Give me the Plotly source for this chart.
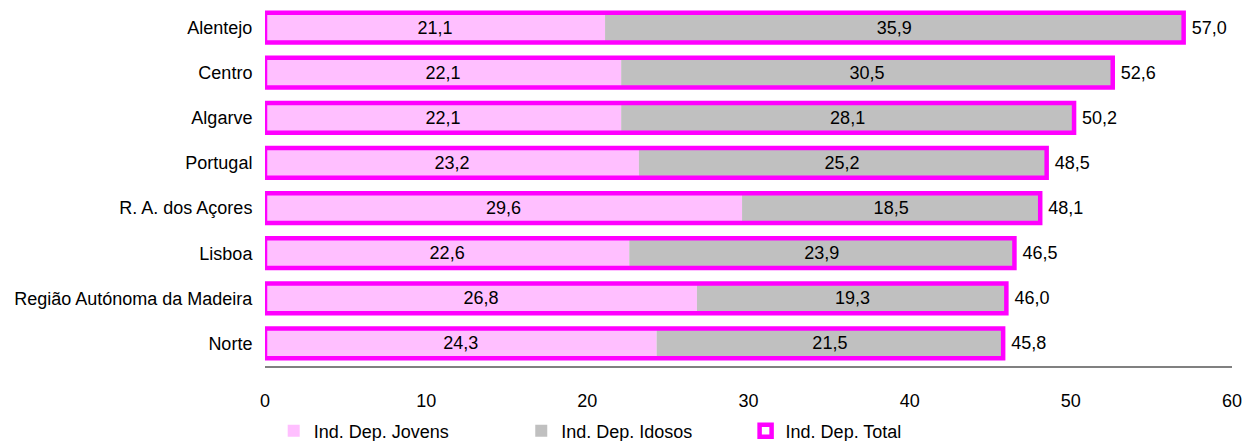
import plotly.graph_objects as go

regions = ["Alentejo", "Centro", "Algarve", "Portugal", "R. A. dos Açores",
           "Lisboa", "Região Autónoma da Madeira", "Norte"]
jovens = [21.1, 22.1, 22.1, 23.2, 29.6, 22.6, 26.8, 24.3]
idosos = [35.9, 30.5, 28.1, 25.2, 18.5, 23.9, 19.3, 21.5]
total = [57.0, 52.6, 50.2, 48.5, 48.1, 46.5, 46.0, 45.8]
x_ticks = [0, 10, 20, 30, 40, 50, 60]

FONT = "Arial, Liberation Sans, sans-serif"
FS = 18
BW = 0.66

fig = go.Figure()
fig.add_trace(go.Bar(
    y=regions, x=jovens, orientation="h", name="Ind. Dep. Jovens",
    marker=dict(color="#FFBFFF", line=dict(width=0)), width=BW,
    texttemplate="%{x:.1f}", textposition="inside", insidetextanchor="middle",
    textfont=dict(color="black", size=FS, family=FONT), constraintext="none",
    legend="legend", hoverinfo="skip"))
fig.add_trace(go.Bar(
    y=regions, x=idosos, base=jovens, orientation="h", name="Ind. Dep. Idosos",
    marker=dict(color="#C0C0C0", line=dict(width=0)), width=BW,
    texttemplate="%{x:.1f}", textposition="inside", insidetextanchor="middle",
    textfont=dict(color="black", size=FS, family=FONT), constraintext="none",
    legend="legend2", hoverinfo="skip"))
fig.add_trace(go.Bar(
    y=regions, x=total, orientation="h", name="Ind. Dep. Total",
    marker=dict(color="rgba(0,0,0,0)", line=dict(color="#FF00FF", width=4.5)),
    width=BW, texttemplate=" %{x:.1f}", textposition="outside",
    textfont=dict(color="black", size=FS, family=FONT), constraintext="none",
    cliponaxis=False, legend="legend3", hoverinfo="skip"))

leg_common = dict(orientation="h", yanchor="middle", y=-0.18, xanchor="left",
                  font=dict(size=FS, family=FONT, color="black"),
                  bgcolor="rgba(0,0,0,0)", itemwidth=30)

fig.update_layout(
    width=1246, height=441,
    margin=dict(l=265, r=14, t=5, b=75, autoexpand=False),
    barmode="overlay",
    separators=",.",
    plot_bgcolor="white", paper_bgcolor="white",
    font=dict(family=FONT, size=FS, color="black"),
    xaxis=dict(range=[0, 60], tickvals=x_ticks, showgrid=False, zeroline=False,
               showline=True, linecolor="#808080", linewidth=2,
               ticks="outside", ticklen=17, tickcolor="rgba(0,0,0,0)",
               automargin=False,
               tickfont=dict(size=FS, family=FONT, color="black")),
    yaxis=dict(autorange="reversed", showgrid=False, zeroline=False,
               showline=False, ticks="outside", ticklen=8,
               tickcolor="rgba(0,0,0,0)", automargin=False,
               tickfont=dict(size=FS, family=FONT, color="black")),
    legend=dict(x=0.009, **leg_common),
    legend2=dict(x=0.265, **leg_common),
    legend3=dict(x=0.497, **leg_common),
    showlegend=True,
)

fig.write_html("out.html", config={"displayModeBar": False},
               post_script="document.body.style.margin='0';document.body.style.padding='0';")
